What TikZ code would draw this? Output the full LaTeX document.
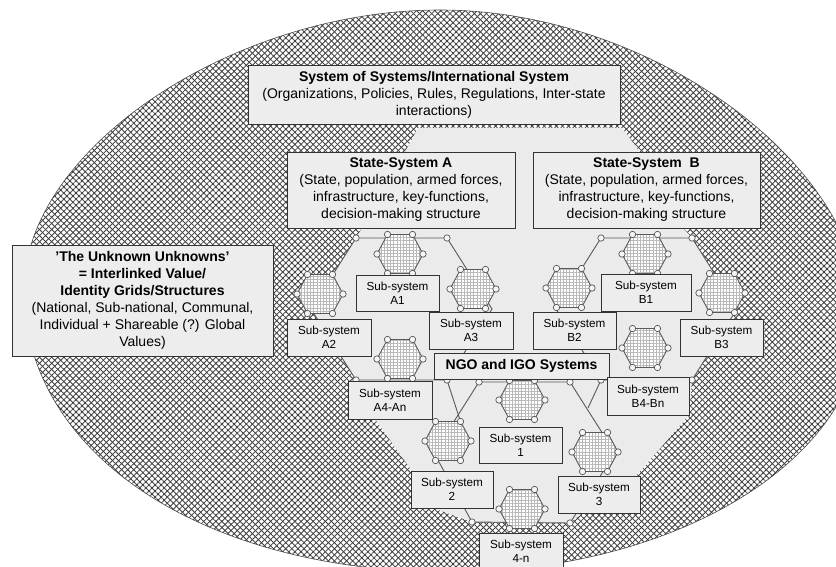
\documentclass[tikz,border=0pt]{standalone}
\usepackage{fontspec}
\setmainfont{Liberation Sans}
\usetikzlibrary{patterns.meta}

\begin{document}
\begin{tikzpicture}[x=1pt,y=-1pt,
  hatch/.style={pattern={Lines[angle=#1,distance=4.3pt,line width=0.85pt]},pattern color=black!75},
  mesh/.style={pattern={Lines[angle=#1,distance=3.2pt,line width=0.4pt]},pattern color=black!28},
  link/.style={draw=black!65,line width=0.9pt},
  box/.style={draw=black!80,fill=black!7,line width=0.9pt,inner sep=0pt,align=center},
  bigtxt/.style={font=\fontsize{14}{17}\selectfont},
  subtxt/.style={font=\fontsize{11.7}{14.3}\selectfont},
  joint/.style={circle,draw=black!65,fill=black!4,line width=0.7pt,minimum size=6.4pt,inner sep=0pt},
  subhex/.pic={
    \path[preaction={fill=white},preaction={mesh=0},preaction={mesh=90},
          draw=black!65,line width=0.9pt]
      (-23,0)--(-12.5,-19.5)--(12.5,-19.5)--(23,0)--(12.5,19.5)--(-12.5,19.5)--cycle;
    \foreach \p in {(-23,0),(-12.5,-19.5),(12.5,-19.5),(23,0),(12.5,19.5),(-12.5,19.5)}
      \filldraw[draw=black!65,fill=black!4,line width=0.7pt] \p circle[radius=3.2];
  }
]
\useasboundingbox (0,0) rectangle (836,567);
\clip (0,0) rectangle (836,567);

% outer field of value/identity structures
\path[preaction={fill=white},preaction={hatch=45},preaction={hatch=-45},
      draw=black!70,line width=0.6pt]
  (440,10) .. controls (651,10) and (862,164) .. (862,318)
  .. controls (862,458.2) and (677.4,572) .. (450,572)
  .. controls (202.9,572) and (24,453.6) .. (24,290)
  .. controls (24,150) and (232,10) .. (440,10) -- cycle;

% light area of the state and NGO systems
\fill[black!8] (418,128) -- (622,128) -- (640,152) -- (683,228) -- (692,238)
  -- (737,309) -- (692,380) -- (689,415) -- (636,476) -- (582,513) -- (570,523)
  -- (472,522) -- (433,508) -- (412,471) -- (375,419) -- (356,380) -- (311,309)
  -- (356,238) -- (362,228) -- (405,152) -- cycle;

% vertices of the three large hexagonal frames
\coordinate (a1) at (356,238); \coordinate (a2) at (447,238);
\coordinate (a3) at (492,309); \coordinate (a4) at (447,380);
\coordinate (a5) at (356,380); \coordinate (a6) at (311,309);
\coordinate (b1) at (601,238); \coordinate (b2) at (692,238);
\coordinate (b3) at (737,309); \coordinate (b4) at (692,380);
\coordinate (b5) at (601,380); \coordinate (b6) at (556,309);
\coordinate (n1) at (479,382); \coordinate (n2) at (570,382);
\coordinate (n3) at (615,453); \coordinate (n4) at (570,523);
\coordinate (n5) at (472,522); \coordinate (n6) at (434,453);
\coordinate (x1) at (460.5,421.5); \coordinate (x2) at (588,408);

\draw[link] (a1) -- (a2) -- (a3) -- (a4) -- (a5) -- (a6) -- cycle;
\draw[link] (b1) -- (b2) -- (b3) -- (b4) -- (b5) -- (b6) -- cycle;
\draw[link] (n1) -- (n2) -- (n3) -- (n4) -- (n5) -- (n6) -- cycle;
\draw[link] (a4) -- (x1);
\draw[link] (b5) -- (x2);

\foreach \v in {a1,a2,a4,a5,b1,b2,b4,b5,n1,n2,n4,n5}
  \node[joint] (j\v) at (\v) {};

% sub-system hexagons
\pic (hA1) at (400,254) {subhex};
\pic (hA2) at (320,294) {subhex};
\pic (hA3) at (473,289) {subhex};
\pic (hA4) at (400,359) {subhex};
\pic (hB1) at (645,254) {subhex};
\pic (hB2) at (569,288) {subhex};
\pic (hB3) at (722,293) {subhex};
\pic (hB4) at (645,348) {subhex};
\pic (h1) at (522,400) {subhex};
\pic (h2) at (448,441) {subhex};
\pic (h3) at (595,452) {subhex};
\pic (h4) at (522,509) {subhex};

% labels
\node[box,bigtxt,minimum width=372pt,minimum height=59pt] (sos) at (434,94.5)
  {\textbf{System of Systems/International System}\\
   (Organizations, Policies, Rules, Regulations, Inter-state\\interactions)};
\node[box,bigtxt,minimum width=228pt,minimum height=76pt] (ssA) at (401,190)
  {\textbf{State-System A}\\(State, population, armed forces,\\
   infrastructure, key-functions,\\decision-making structure};
\node[box,bigtxt,minimum width=227pt,minimum height=76pt] (ssB) at (646.5,190)
  {\textbf{State-System\ \ B}\\(State, population, armed forces,\\
   infrastructure, key-functions,\\decision-making structure};
\node[box,bigtxt,minimum width=261pt,minimum height=111pt] (unk) at (142.5,300.5)
  {\textbf{'The Unknown Unknowns'}\\\textbf{= Interlinked Value/}\\
   \textbf{Identity Grids/Structures}\\(National, Sub-national, Communal,\\
   Individual + Shareable (?) Global\\Values)};
\node[box,font=\fontsize{14}{17}\selectfont\bfseries,minimum width=175pt,minimum height=26pt]
  (ngo) at (521.5,366) {NGO and IGO Systems};

\node[box,subtxt,minimum width=83pt,minimum height=36pt] (sA1) at (397.5,293) {Sub-system\\A1};
\node[box,subtxt,minimum width=84pt,minimum height=37pt] (sA2) at (329,337.5) {Sub-system\\A2};
\node[box,subtxt,minimum width=84pt,minimum height=37pt] (sA3) at (471,330.5) {Sub-system\\A3};
\node[box,subtxt,minimum width=84pt,minimum height=38pt] (sA4) at (390,400) {Sub-system\\A4-An};
\node[box,subtxt,minimum width=90pt,minimum height=37pt] (sB1) at (646,292.5) {Sub-system\\B1};
\node[box,subtxt,minimum width=83pt,minimum height=37pt] (sB2) at (574.5,330.5) {Sub-system\\B2};
\node[box,subtxt,minimum width=83pt,minimum height=37pt] (sB3) at (721.5,337.5) {Sub-system\\B3};
\node[box,subtxt,minimum width=82pt,minimum height=38pt] (sB4) at (648,396) {Sub-system\\B4-Bn};
\node[box,subtxt,minimum width=83pt,minimum height=36pt] (s1) at (520.5,445) {Sub-system\\1};
\node[box,subtxt,minimum width=82pt,minimum height=37pt] (s2) at (452,489.5) {Sub-system\\2};
\node[box,subtxt,minimum width=82pt,minimum height=37pt] (s3) at (599,494.5) {Sub-system\\3};
\node[box,subtxt,minimum width=84pt,minimum height=37pt] (s4) at (521,551.5) {Sub-system\\4-n};
\end{tikzpicture}
\end{document}
